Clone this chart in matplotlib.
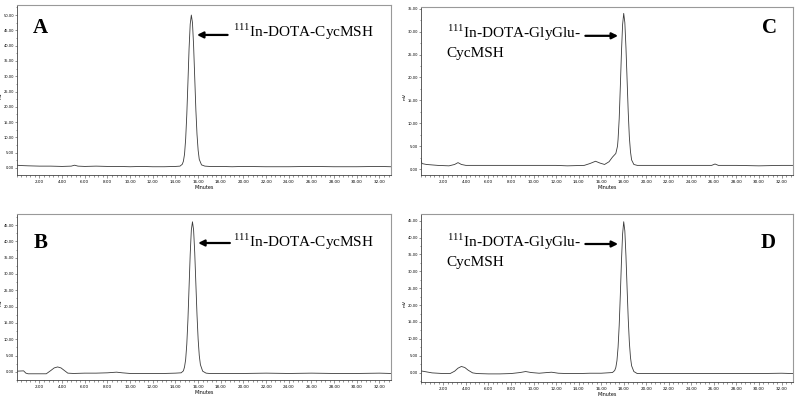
import matplotlib
matplotlib.use("Agg")
import matplotlib.pyplot as plt
import numpy as np
from matplotlib import rcParams
from matplotlib.ticker import FormatStrFormatter, AutoMinorLocator

rcParams['font.family'] = 'DejaVu Sans'
rcParams['mathtext.fontset'] = 'custom'
rcParams['mathtext.rm'] = 'Liberation Serif'

# chromatogram traces (minutes, mV)
t_a = [0.0, 0.3, 1.0, 2.0, 3.0, 4.0, 4.8, 5.1, 5.4, 6.0, 7.0, 8.0, 9.0, 10.0, 11.0, 12.0, 13.0, 14.0,
       14.4, 14.6, 14.7, 14.8, 14.9, 15.0, 15.1, 15.2, 15.3, 15.4, 15.5, 15.6, 15.7, 15.8, 15.9, 16.0,
       16.1, 16.3, 16.6, 17.0, 18.0, 19.0, 20.0, 22.0, 24.0, 26.0, 28.0, 30.0, 32.0, 33.0]
mv_a = [0.9, 0.8, 0.7, 0.6, 0.6, 0.5, 0.6, 0.9, 0.6, 0.5, 0.6, 0.5, 0.5, 0.4, 0.5, 0.4, 0.4, 0.5,
        0.6, 1.2, 2.2, 4.5, 9.5, 17.5, 28.0, 39.0, 47.0, 50.0, 47.5, 40.0, 29.5, 19.0, 11.0, 5.8,
        2.8, 1.0, 0.6, 0.5, 0.5, 0.4, 0.5, 0.4, 0.4, 0.5, 0.4, 0.4, 0.5, 0.4]

t_b = [0.0, 0.6, 0.8, 1.0, 2.0, 2.6, 3.0, 3.3, 3.6, 3.9, 4.2, 4.5, 5.0, 6.0, 7.0, 8.0, 8.8, 9.3, 10.0,
       11.0, 12.0, 13.0, 14.0, 14.5, 14.7, 14.8, 14.9, 15.0, 15.1, 15.2, 15.3, 15.4, 15.5, 15.6, 15.7,
       15.8, 15.9, 16.0, 16.1, 16.2, 16.4, 16.7, 17.0, 18.0, 20.0, 22.0, 24.0, 26.0, 28.0, 30.0, 32.0, 33.0]
mv_b = [0.2, 0.3, -0.4, -0.6, -0.6, -0.6, 0.4, 1.2, 1.5, 1.2, 0.4, -0.4, -0.5, -0.4, -0.4, -0.3, -0.1, -0.3, -0.5,
        -0.5, -0.5, -0.5, -0.4, -0.3, 0.3, 1.5, 3.8, 8.5, 16.0, 26.0, 36.0, 43.5, 46.0, 43.5, 36.5,
        27.0, 17.5, 10.0, 5.0, 2.2, 0.2, -0.4, -0.5, -0.5, -0.5, -0.4, -0.5, -0.4, -0.5, -0.5, -0.4, -0.5]

t_c = [0.0, 0.1, 0.5, 1.5, 2.5, 3.0, 3.3, 3.6, 4.0, 6.0, 8.0, 10.0, 12.0, 13.0, 14.5, 15.0, 15.5, 15.9,
       16.3, 16.7, 17.0, 17.3, 17.45, 17.5, 17.6, 17.7, 17.8, 17.9, 18.0, 18.1, 18.2, 18.3, 18.4, 18.5,
       18.6, 18.7, 18.9, 19.2, 20.0, 22.0, 24.0, 25.8, 26.1, 26.4, 28.0, 30.0, 32.0, 33.0]
mv_c = [2.2, 1.2, 1.0, 0.8, 0.7, 1.0, 1.4, 1.0, 0.8, 0.8, 0.8, 0.8, 0.8, 0.7, 0.8, 1.2, 1.7, 1.3,
        1.0, 1.6, 2.6, 3.4, 5.0, 6.5, 11.0, 18.0, 25.5, 31.5, 34.0, 32.0, 26.5, 19.5, 12.5, 7.0,
        3.8, 2.0, 1.0, 0.8, 0.8, 0.8, 0.8, 0.8, 1.1, 0.8, 0.8, 0.7, 0.8, 0.8]

t_d = [0.0, 0.5, 1.0, 2.0, 2.6, 3.0, 3.3, 3.6, 3.9, 4.2, 4.6, 5.0, 6.0, 7.0, 8.0, 8.8, 9.3, 9.8, 10.5,
       11.2, 11.6, 12.2, 13.0, 14.0, 15.0, 16.0, 17.0, 17.2, 17.3, 17.4, 17.5, 17.6, 17.7, 17.8, 17.9,
       18.0, 18.1, 18.2, 18.3, 18.4, 18.5, 18.6, 18.7, 18.9, 19.2, 20.0, 22.0, 24.0, 26.0, 28.0, 30.0, 32.0, 33.0]
mv_d = [0.5, 0.2, -0.1, -0.3, -0.3, 0.4, 1.3, 1.8, 1.5, 0.7, -0.1, -0.3, -0.4, -0.4, -0.3, 0.0, 0.3, 0.0, -0.2,
        0.0, 0.1, -0.2, -0.3, -0.3, -0.2, -0.2, 0.0, 0.6, 1.5, 3.5, 7.5, 14.0, 23.0, 33.0, 41.0,
        44.7, 42.0, 34.5, 25.0, 16.0, 9.0, 4.5, 2.0, 0.3, -0.3, -0.3, -0.3, -0.3, -0.3, -0.3, -0.3, -0.2, -0.3]

x_ticks = np.arange(2, 33, 2)
label_one = r"$^{\mathrm{111}}$In-DOTA-CycMSH"
label_two = r"$^{\mathrm{111}}$In-DOTA-GlyGlu-"

line_col = '#3a3a3a'
fig = plt.figure(figsize=(8, 4.01), dpi=100)

# [left, bottom, width, height], ylim, ytick max
panels = {
    "A": ([0.021, 0.5636, 0.4675, 0.424], (-2.3, 53.3), 50, t_a, mv_a),
    "C": ([0.526, 0.5636, 0.465, 0.419], (-1.3, 35.4), 35, t_c, mv_c),
    "B": ([0.021, 0.0524, 0.4675, 0.414], (-2.5, 48.4), 45, t_b, mv_b),
    "D": ([0.526, 0.0474, 0.465, 0.419], (-2.8, 47.0), 45, t_d, mv_d),
}

axes = {}
for key, (rect, ylim, ymax, t, mv) in panels.items():
    ax = fig.add_axes(rect)
    ax.plot(t, mv, color=line_col, lw=0.6)
    ax.set_xlim(0, 33)
    ax.set_ylim(*ylim)
    ax.set_xticks(x_ticks)
    ax.set_yticks(np.arange(0, ymax + 1, 5))
    ax.xaxis.set_major_formatter(FormatStrFormatter('%.2f'))
    ax.yaxis.set_major_formatter(FormatStrFormatter('%.2f'))
    ax.xaxis.set_minor_locator(AutoMinorLocator(5))
    ax.yaxis.set_minor_locator(AutoMinorLocator(2))
    ax.tick_params(which='major', length=2.5, width=0.4, pad=1, color='#444444')
    ax.tick_params(which='minor', length=1.5, width=0.4, color='#444444')
    ax.tick_params(axis='x', labelsize=3)
    ax.tick_params(axis='y', which='major', length=1.5, pad=0.5, labelsize=2.6)
    ax.tick_params(axis='y', which='minor', length=1.0)
    ax.set_xlabel("Minutes", fontsize=3.5, labelpad=1)
    ax.set_ylabel("mV", fontsize=3.2)
    ax.yaxis.set_label_coords(-0.037, 0.47)
    for s in ['left', 'bottom']:
        ax.spines[s].set_color('#444444')
        ax.spines[s].set_linewidth(0.6)
    for s in ['top', 'right']:
        ax.spines[s].set_color('#999999')
        ax.spines[s].set_linewidth(0.8)
    axes[key] = ax

serif = 'Liberation Serif'
arrow = dict(arrowstyle='-|>', color='k', lw=1.6, mutation_scale=9, shrinkA=0, shrinkB=0)
txt_size = 11

# A
ax = axes["A"]
ax.text(0.063, 0.835, "A", transform=ax.transAxes, fontsize=15, fontweight='bold', family=serif, ha='center')
ax.annotate("", xy=(15.9, 43.5), xytext=(18.6, 43.5), arrowprops=arrow)
ax.text(19.1, 42.8, label_one, fontsize=txt_size, family=serif, va='baseline')

# B
ax = axes["B"]
ax.text(0.063, 0.795, "B", transform=ax.transAxes, fontsize=15, fontweight='bold', family=serif, ha='center')
ax.annotate("", xy=(16.0, 39.5), xytext=(18.8, 39.5), arrowprops=arrow)
ax.text(19.1, 38.3, label_one, fontsize=txt_size, family=serif, va='baseline')

# C
ax = axes["C"]
ax.text(0.937, 0.845, "C", transform=ax.transAxes, fontsize=15, fontweight='bold', family=serif, ha='center')
ax.annotate("", xy=(17.5, 29.1), xytext=(14.6, 29.1), arrowprops=arrow)
ax.text(2.3, 28.7, label_two, fontsize=txt_size, family=serif, va='baseline')
ax.text(2.3, 24.5, "CycMSH", fontsize=txt_size, family=serif, va='baseline')

# D
ax = axes["D"]
ax.text(0.935, 0.798, "D", transform=ax.transAxes, fontsize=15, fontweight='bold', family=serif, ha='center')
ax.annotate("", xy=(17.5, 38.1), xytext=(14.6, 38.1), arrowprops=arrow)
ax.text(2.3, 37.3, label_two, fontsize=txt_size, family=serif, va='baseline')
ax.text(2.3, 31.7, "CycMSH", fontsize=txt_size, family=serif, va='baseline')

plt.savefig("out.png", dpi=100)
